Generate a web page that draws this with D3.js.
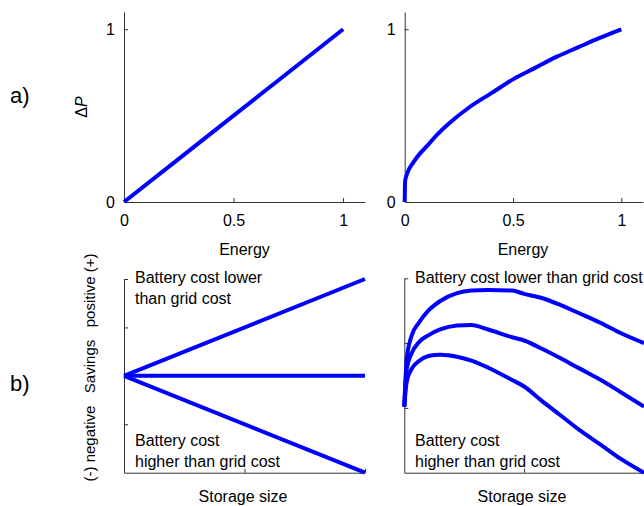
<!DOCTYPE html>
<html>
<head>
<meta charset="utf-8">
<script src="https://cdn.jsdelivr.net/npm/d3@7"></script>
<style>
  body { margin: 0; background: #fff; }
  text { font-family: "Liberation Sans", Arial, sans-serif; fill: #000; }
</style>
</head>
<body>
<div id="chart"></div>
<script>
// panel a) left: linear dP vs energy
var energyLin = [0, 0.25, 0.5, 0.75, 1];
var dPLin = [0, 0.25, 0.5, 0.75, 1];

// panel a) right: concave dP vs energy
var energyConc = [0, 0.002, 0.01, 0.02, 0.04, 0.07, 0.1, 0.15, 0.2, 0.3, 0.4, 0.5, 0.6, 0.7, 0.8, 0.9, 1];
var dPConc = [0, 0.12, 0.16, 0.19, 0.23, 0.28, 0.32, 0.39, 0.45, 0.55, 0.63, 0.71, 0.775, 0.84, 0.895, 0.95, 1];

// panel b) left: straight savings lines
var storageLin = [0, 1];
var savingsUp = [0, 1];
var savingsFlat = [0, 0];
var savingsDown = [0, -1];

// panel b) right: humped savings curves
var storageCurve = [0, 0.01, 0.03, 0.06, 0.1, 0.15, 0.22, 0.28, 0.35, 0.45, 0.5, 0.57, 0.65, 0.73, 0.82, 0.9, 1.0];
var savingsHigh = [1.02, 1.75, 2.11, 2.31, 2.50, 2.65, 2.77, 2.81, 2.82, 2.81, 2.76, 2.70, 2.59, 2.46, 2.31, 2.16, 2.0];
var savingsMid = [1.02, 1.60, 1.84, 2.01, 2.12, 2.21, 2.27, 2.28, 2.21, 2.09, 2.04, 1.92, 1.77, 1.61, 1.43, 1.25, 1.02];
var savingsLow = [1.02, 1.40, 1.60, 1.72, 1.80, 1.82, 1.79, 1.73, 1.62, 1.43, 1.33, 1.12, 0.89, 0.66, 0.43, 0.22, 0.0];

var unitTicks = [0, 0.5, 1];
var dPTicks = [0, 1];
var savingsTicksL = [-1, -0.5, 0, 0.5, 1];
var savingsTicksR = [0, 1, 2, 3];

var width = 644, height = 506;
var svg = d3.select("#chart").append("svg")
  .attr("width", width)
  .attr("height", height);

var blue = "#0000ff";
var axisColor = "#333";

function zip(xs, ys) {
  var out = [];
  for (var i = 0; i < xs.length; i++) out.push([xs[i], ys[i]]);
  return out;
}

function panel(opt) {
  var x = d3.scaleLinear().domain(opt.xd).range(opt.xr);
  var y = d3.scaleLinear().domain(opt.yd).range(opt.yr);
  var g = svg.append("g");

  var xAxis = d3.axisBottom(x).tickValues(opt.xt).tickSizeInner(-4).tickSizeOuter(0).tickPadding(13);
  if (!opt.xlabels) xAxis.tickFormat("");
  else xAxis.tickFormat(d3.format("~g"));
  var gx = g.append("g").attr("transform", "translate(0," + opt.yr[0] + ")").call(xAxis);

  var yAxis = d3.axisLeft(y).tickValues(opt.yt).tickSizeInner(-4).tickSizeOuter(0).tickPadding(9);
  if (!opt.ylabels) yAxis.tickFormat("");
  else yAxis.tickFormat(d3.format("~g"));
  var gy = g.append("g").attr("transform", "translate(" + opt.xr[0] + ",0)").call(yAxis);

  [gx, gy].forEach(function (a) {
    a.selectAll("path,line").attr("stroke", axisColor).attr("stroke-width", 1);
    a.selectAll("text").style("font-size", "16px").attr("fill", "#000");
  });
  gx.selectAll(".tick:first-of-type line").remove();
  gy.selectAll(".tick:first-of-type line").remove();

  var line = d3.line()
    .x(function (d) { return x(d[0]); })
    .y(function (d) { return y(d[1]); })
    .curve(opt.curve || d3.curveLinear);

  opt.series.forEach(function (s) {
    g.append("path")
      .datum(s)
      .attr("d", line)
      .attr("fill", "none")
      .attr("stroke", blue)
      .attr("stroke-width", 4)
      .attr("stroke-linejoin", "round");
  });
  return { x: x, y: y, g: g };
}

// a) left
panel({
  xd: [0, 1.1], xr: [124, 365], yd: [0, 1.1], yr: [202, 12],
  xt: unitTicks, yt: dPTicks, xlabels: true, ylabels: true,
  series: [zip(energyLin, dPLin)]
});
// a) right
panel({
  xd: [0, 1.1], xr: [404.7, 643], yd: [0, 1.1], yr: [202, 12],
  xt: unitTicks, yt: dPTicks, xlabels: true, ylabels: true,
  curve: d3.curveMonotoneX,
  series: [zip(energyConc, dPConc)]
});
// b) left
panel({
  xd: [0, 1], xr: [124, 365], yd: [-1, 1], yr: [472.7, 279],
  xt: unitTicks, yt: savingsTicksL, xlabels: false, ylabels: false,
  series: [zip(storageLin, savingsUp), zip(storageLin, savingsFlat), zip(storageLin, savingsDown)]
});
// b) right
panel({
  xd: [0, 1], xr: [404.3, 644], yd: [0, 3], yr: [472.7, 278.3],
  xt: unitTicks, yt: savingsTicksR, xlabels: false, ylabels: false,
  curve: d3.curveMonotoneX,
  series: [zip(storageCurve, savingsHigh), zip(storageCurve, savingsMid), zip(storageCurve, savingsLow)]
});

// axis titles
svg.append("text").attr("x", 244.5).attr("y", 255).attr("text-anchor", "middle")
  .style("font-size", "16px").text("Energy");
svg.append("text").attr("x", 523).attr("y", 255).attr("text-anchor", "middle")
  .style("font-size", "16px").text("Energy");
svg.append("text").attr("x", 243).attr("y", 502).attr("text-anchor", "middle")
  .style("font-size", "16px").text("Storage size");
svg.append("text").attr("x", 522).attr("y", 502).attr("text-anchor", "middle")
  .style("font-size", "16px").text("Storage size");

var dp = svg.append("text")
  .attr("transform", "translate(87,107) rotate(-90)")
  .attr("text-anchor", "middle")
  .style("font-size", "16px");
dp.append("tspan").text("\u0394");
dp.append("tspan").style("font-style", "italic").text("P");

svg.append("text")
  .attr("transform", "translate(95,367.5) rotate(-90)")
  .attr("text-anchor", "middle")
  .style("font-size", "15px")
  .style("white-space", "pre")
  .text("(-) negative   Savings   positive (+)");

// panel letters
svg.append("text").attr("x", 10).attr("y", 103).style("font-size", "22px").text("a)");
svg.append("text").attr("x", 10).attr("y", 391).style("font-size", "22px").text("b)");

// annotations
var notes = [
  { x: 135, y: 283, t: "Battery cost lower" },
  { x: 135, y: 304, t: "than grid cost" },
  { x: 135, y: 446, t: "Battery cost" },
  { x: 135, y: 467, t: "higher than grid cost" },
  { x: 415, y: 283, t: "Battery cost lower than grid cost" },
  { x: 415, y: 446, t: "Battery cost" },
  { x: 415, y: 467, t: "higher than grid cost" }
];
svg.selectAll(".note").data(notes).enter().append("text")
  .attr("class", "note")
  .attr("x", function (d) { return d.x; })
  .attr("y", function (d) { return d.y; })
  .style("font-size", "16px")
  .text(function (d) { return d.t; });
</script>
</body>
</html>
